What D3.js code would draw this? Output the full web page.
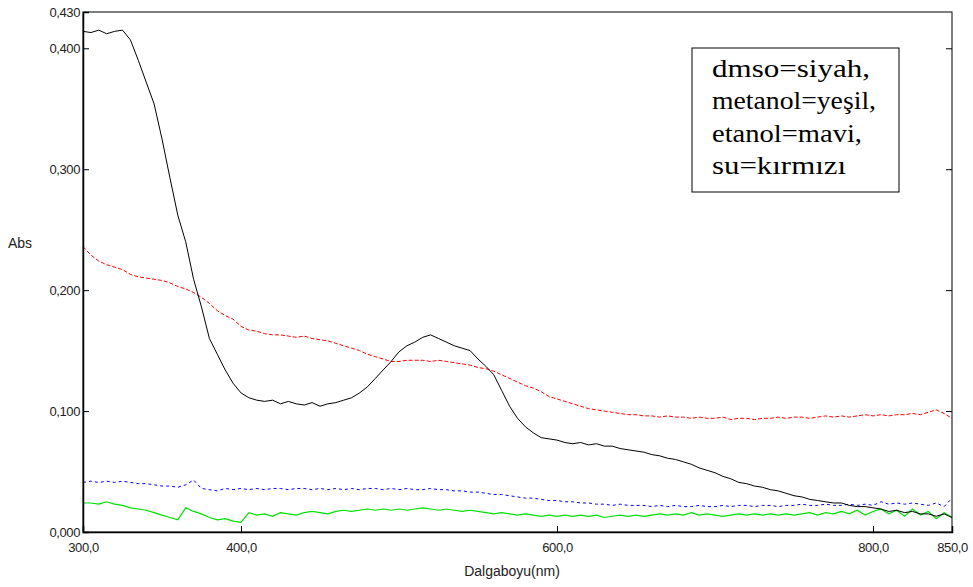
<!DOCTYPE html>
<html>
<head>
<meta charset="utf-8">
<script src="https://cdn.jsdelivr.net/npm/d3@7"></script>
<style>
  html, body { margin: 0; padding: 0; background: #fff; }
  svg { display: block; }
  .tick text { font-family: "Liberation Sans", Arial, sans-serif; font-size: 13px; letter-spacing: -0.4px; fill: #222; }
</style>
</head>
<body>
<svg id="chart" width="973" height="587"></svg>
<script>
// Wavelength grid (nm), one sample every 5 nm
const wavelengths = d3.range(300, 851, 5);

// dmso = siyah (black)
const dmso = [
  .414,.413,.415,.412,.414,.415,.407,.390,.372,.354,
  .325,.293,.262,.240,.209,.186,.160,.147,.134,.123,
  .115,.111,.109,.108,.109,.106,.108,.106,.105,.107,
  .104,.106,.107,.109,.111,.115,.120,.127,.134,.141,
  .149,.154,.157,.161,.163,.160,.157,.154,.152,.150,
  .143,.137,.130,.117,.104,.094,.087,.082,.078,.077,
  .076,.074,.073,.074,.072,.073,.071,.071,.069,.068,
  .067,.066,.064,.063,.061,.060,.058,.056,.053,.051,
  .049,.046,.044,.041,.040,.038,.037,.035,.034,.032,
  .030,.029,.027,.026,.025,.024,.024,.022,.021,.021,
  .020,.019,.017,.018,.016,.017,.015,.015,.013,.015,
  .012
];
// su = kırmızı (red)
const su = [
  .236,.229,.224,.221,.219,.217,.213,.211,.210,.209,
  .208,.206,.203,.201,.198,.194,.189,.183,.179,.176,
  .170,.167,.166,.164,.163,.163,.162,.161,.162,.160,
  .159,.158,.156,.154,.152,.150,.147,.145,.143,.141,
  .141,.142,.142,.142,.141,.142,.141,.140,.139,.138,
  .136,.135,.133,.130,.127,.124,.121,.119,.116,.112,
  .110,.108,.106,.104,.102,.101,.100,.099,.098,.097,
  .097,.096,.096,.095,.096,.095,.095,.094,.095,.094,
  .094,.095,.093,.094,.094,.093,.094,.094,.095,.094,
  .095,.095,.094,.095,.096,.095,.096,.095,.096,.097,
  .096,.097,.096,.097,.097,.098,.097,.099,.101,.098,
  .094
];
// etanol = mavi (blue)
const etanol = [
  .041,.042,.041,.042,.041,.042,.041,.040,.040,.039,
  .038,.038,.037,.039,.043,.036,.035,.034,.036,.035,
  .036,.035,.036,.035,.036,.036,.035,.036,.036,.035,
  .036,.035,.036,.035,.036,.035,.036,.036,.035,.036,
  .035,.036,.035,.035,.036,.035,.035,.034,.034,.033,
  .033,.032,.031,.031,.030,.029,.028,.028,.027,.026,
  .026,.025,.025,.024,.024,.023,.023,.022,.023,.022,
  .022,.022,.021,.022,.021,.022,.021,.021,.022,.021,
  .021,.022,.021,.022,.022,.021,.022,.022,.021,.022,
  .022,.023,.022,.022,.023,.022,.022,.023,.022,.023,
  .022,.025,.023,.024,.023,.024,.023,.022,.024,.021,
  .028
];
// metanol = yeşil (green)
const metanol = [
  .024,.024,.023,.025,.023,.022,.020,.019,.018,.016,
  .014,.012,.010,.020,.017,.015,.012,.010,.011,.009,
  .008,.016,.014,.015,.013,.016,.015,.014,.016,.017,
  .016,.015,.017,.018,.017,.018,.019,.018,.019,.018,
  .019,.018,.019,.020,.019,.018,.019,.018,.017,.018,
  .017,.016,.015,.016,.015,.014,.015,.014,.013,.014,
  .013,.014,.013,.014,.013,.014,.012,.013,.014,.013,
  .014,.013,.014,.015,.014,.015,.014,.016,.014,.015,
  .014,.013,.014,.015,.014,.015,.014,.015,.014,.015,
  .014,.015,.016,.014,.016,.015,.017,.015,.018,.014,
  .017,.019,.015,.018,.013,.019,.014,.017,.011,.016,
  .012
];

const xTicks = [300, 400, 600, 800, 850];
const yTicks = [0, 0.1, 0.2, 0.3, 0.4, 0.43];
const legendLines = ["dmso=siyah,", "metanol=yeşil,", "etanol=mavi,", "su=kırmızı"];
const xTitle = "Dalgaboyu(nm)";
const yTitle = "Abs";

const svg = d3.select("#chart");
const L = 83, R = 952, T = 12, B = 532;

const x = d3.scaleLinear().domain([300, 850]).range([L, R]);
const y = d3.scaleLinear().domain([0, 0.43]).range([B, T]);

const commaFmt = f => v => d3.format(f)(v).replace(".", ",");

// series
const series = [
  { values: metanol, color: "#00e000", dash: null, w: 1.2 },
  { values: etanol, color: "#0000ff", dash: "3,3", w: 1 },
  { values: su, color: "#ff0000", dash: "4,2", w: 1 },
  { values: dmso, color: "#000000", dash: null, w: 1 }
];
const line = d3.line().x((d, i) => x(wavelengths[i])).y(d => y(d));
svg.append("clipPath").attr("id", "plotclip")
  .append("rect").attr("x", L).attr("y", T).attr("width", R - L).attr("height", B - T);
const g = svg.append("g").attr("clip-path", "url(#plotclip)");
series.forEach(s => {
  g.append("path")
    .datum(s.values)
    .attr("fill", "none")
    .attr("stroke", s.color)
    .attr("stroke-width", s.w)
    .attr("stroke-dasharray", s.dash)
    .attr("d", line);
});

// frame
svg.append("rect").attr("x", L).attr("y", T).attr("width", R - L).attr("height", B - T)
  .attr("fill", "none").attr("stroke", "#000").attr("stroke-width", 1);

// axes
const xAxis = d3.axisBottom(x).tickValues(xTicks).tickFormat(commaFmt(".1f")).tickSize(-6).tickPadding(11);
svg.append("g").attr("transform", `translate(0,${B})`).call(xAxis)
  .call(a => a.select(".domain").attr("stroke", "#000").attr("stroke-width", 1.5));
const yAxis = d3.axisLeft(y).tickValues(yTicks).tickFormat(commaFmt(".3f")).tickSize(-6).tickPadding(3);
svg.append("g").attr("transform", `translate(${L},0)`).call(yAxis)
  .call(a => a.select(".domain").attr("stroke", "#000").attr("stroke-width", 1.5));
const yAxisR = d3.axisRight(y).tickValues(yTicks.slice(0, 5)).tickFormat("").tickSize(-6);
svg.append("g").attr("transform", `translate(${R},0)`).call(yAxisR)
  .call(a => a.select(".domain").remove());

// titles
svg.append("text").attr("x", 512).attr("y", 576).attr("text-anchor", "middle")
  .style("font-family", "'Liberation Sans', Arial, sans-serif").style("font-size", "14px").style("fill", "#222")
  .text(xTitle);
svg.append("text").attr("x", 8).attr("y", 248)
  .style("font-family", "'Liberation Sans', Arial, sans-serif").style("font-size", "14px").style("fill", "#222")
  .text(yTitle);

// legend box
const legendWidths = [158, 164, 150, 134];
svg.append("rect").attr("x", 692).attr("y", 48).attr("width", 207).attr("height", 144)
  .attr("fill", "#fff").attr("stroke", "#000").attr("stroke-width", 1);
svg.append("g").selectAll("text").data(legendLines).join("text")
  .attr("x", 712).attr("y", (d, i) => 77 + i * 32.3)
  .attr("textLength", (d, i) => legendWidths[i])
  .attr("lengthAdjust", "spacingAndGlyphs")
  .style("font-family", "'Liberation Serif', 'Times New Roman', serif").style("font-size", "26px").style("fill", "#000")
  .text(d => d);
</script>
</body>
</html>
